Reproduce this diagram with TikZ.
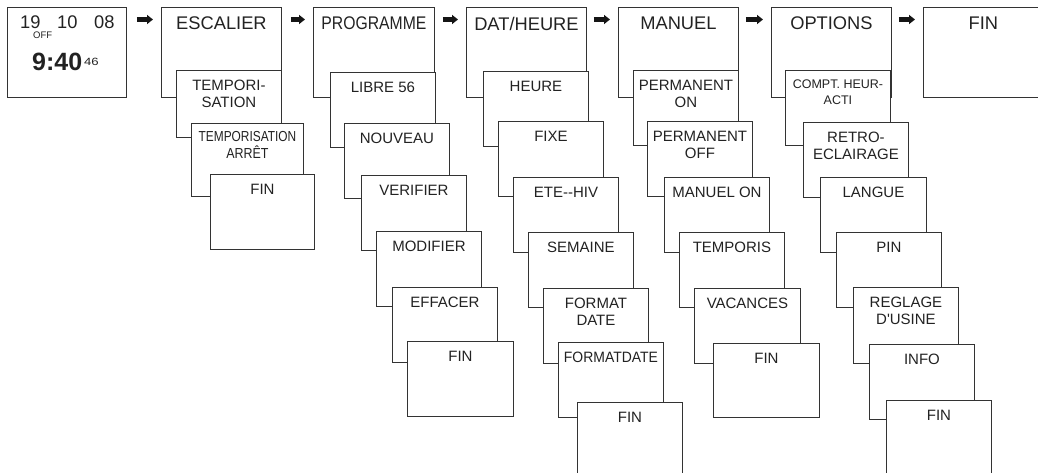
\documentclass[tikz,border=0pt]{standalone}
\usepackage{fontspec}
\setmainfont{Liberation Sans}
\usetikzlibrary{arrows.meta}

\definecolor{boxgray}{HTML}{333333}
\definecolor{textgray}{HTML}{222222}
\definecolor{arrowblack}{HTML}{151515}

\tikzset{
  mainbox/.style={draw=boxgray, fill=white, line width=0.9pt, anchor=north west,
    minimum width=120pt, minimum height=90pt, inner sep=0pt},
  subbox/.style={draw=boxgray, fill=white, line width=0.9pt, anchor=north west,
    minimum width=105pt, minimum height=75pt, inner sep=0pt},
  maintext/.style={anchor=north, inner sep=0pt, yshift=-10pt, text=textgray,
    font=\fontsize{18.3}{21}\selectfont},
  subtext/.style={anchor=north, inner sep=0pt, yshift=-9.5pt, align=center, text=textgray,
    font=\fontsize{15}{17}\selectfont},
  clocktext/.style={anchor=base west, inner sep=0pt, text=textgray},
  navarrow/.style={line width=5pt, arrowblack, -{Triangle[length=6pt,width=9pt]}}
}

\begin{document}
\begin{tikzpicture}[x=1pt,y=-1pt]
\useasboundingbox (0,0) rectangle (1038,473);
\clip (0,0) rectangle (1038,473);

% display
\node[mainbox, minimum width=119pt] (clock) at (7,7) {};
\node[clocktext, font=\fontsize{18.3}{21}\selectfont] (day) at (20,28.3) {19};
\node[clocktext, font=\fontsize{9.5}{11}\selectfont] (off) at (33,39) {OFF};
\node[clocktext, font=\fontsize{18.3}{21}\selectfont] (month) at (57,28.3) {10};
\node[clocktext, font=\fontsize{18.3}{21}\selectfont] (year) at (94,28.3) {08};
\node[clocktext, font=\bfseries\fontsize{25}{28}\selectfont] (time) at (32,71) {9:40};
\node[clocktext, font=\fontsize{10.5}{12}\selectfont] (sec) at (84,66) {\scalebox{1.25}[1]{46}};

% main menu
\node[mainbox] (esc) at (161,7) {};
\node[maintext] (esc-t) at (esc.north) {ESCALIER};
\node[mainbox, minimum width=121pt] (prog) at (313,7) {};
\node[maintext] (prog-t) at (prog.north) {\scalebox{0.86}[1]{PROGRAMME}};
\node[mainbox] (dat) at (466,7) {};
\node[maintext] (dat-t) at (dat.north) {DAT/HEURE};
\node[mainbox] (man) at (618,7) {};
\node[maintext] (man-t) at (man.north) {MANUEL};
\node[mainbox] (opt) at (771,7) {};
\node[maintext] (opt-t) at (opt.north) {OPTIONS};
\node[mainbox] (fin) at (923,7) {};
\node[maintext] (fin-t) at (fin.north) {FIN};

\draw[navarrow] ([shift={(10,12.5)}]clock.north east) -- ([shift={(-8,12.5)}]esc.north west);
\draw[navarrow] ([shift={(9,12.5)}]esc.north east) -- ([shift={(-8,12.5)}]prog.north west);
\draw[navarrow] ([shift={(8,12.5)}]prog.north east) -- ([shift={(-8,12.5)}]dat.north west);
\draw[navarrow] ([shift={(7,12.5)}]dat.north east) -- ([shift={(-8,12.5)}]man.north west);
\draw[navarrow] ([shift={(7,12.5)}]man.north east) -- ([shift={(-8,12.5)}]opt.north west);
\draw[navarrow] ([shift={(7,12.5)}]opt.north east) -- ([shift={(-8,12.5)}]fin.north west);

% ESCALIER
\node[subbox, minimum height=67pt] (esc1) at (176,70) {};
\node[subtext] (esc1-t) at (esc1.north) {TEMPORI-\\SATION};
\node[subbox, minimum width=112pt, minimum height=73pt] (esc2) at (191,123) {};
\node[subtext, yshift=1pt, font=\fontsize{14.5}{16.6}\selectfont] (esc2-t) at (esc2.north)
  {\scalebox{0.82}[1]{TEMPORISATION}\\\scalebox{0.86}[1]{ARRÊT}};
\node[subbox, minimum width=104pt] (esc3) at (210,174) {};
\node[subtext] (esc3-t) at (esc3.north) {FIN};

% PROGRAMME
\node[subbox] (prog1) at (330,72) {};
\node[subtext] (prog1-t) at (prog1.north) {LIBRE 56};
\node[subbox] (prog2) at (344,123) {};
\node[subtext] (prog2-t) at (prog2.north) {NOUVEAU};
\node[subbox] (prog3) at (361,175) {};
\node[subtext] (prog3-t) at (prog3.north) {VERIFIER};
\node[subbox] (prog4) at (376,231) {};
\node[subtext] (prog4-t) at (prog4.north) {MODIFIER};
\node[subbox] (prog5) at (392,287) {};
\node[subtext] (prog5-t) at (prog5.north) {EFFACER};
\node[subbox, minimum width=106pt] (prog6) at (407,341) {};
\node[subtext] (prog6-t) at (prog6.north) {FIN};

% DAT/HEURE
\node[subbox] (dat1) at (483,71) {};
\node[subtext] (dat1-t) at (dat1.north) {HEURE};
\node[subbox] (dat2) at (498,121) {};
\node[subtext] (dat2-t) at (dat2.north) {FIXE};
\node[subbox] (dat3) at (513,177) {};
\node[subtext] (dat3-t) at (dat3.north) {ETE-{}-HIV};
\node[subbox] (dat4) at (528,232) {};
\node[subtext] (dat4-t) at (dat4.north) {SEMAINE};
\node[subbox] (dat5) at (543,288) {};
\node[subtext] (dat5-t) at (dat5.north) {FORMAT\\DATE};
\node[subbox] (dat6) at (558,342) {};
\node[subtext] (dat6-t) at (dat6.north) {\scalebox{0.93}[1]{FORMATDATE}};
\node[subbox] (dat7) at (577,402) {};
\node[subtext] (dat7-t) at (dat7.north) {FIN};

% MANUEL
\node[subbox] (man1) at (633,70) {};
\node[subtext] (man1-t) at (man1.north) {PERMANENT\\ON};
\node[subbox] (man2) at (647,121) {};
\node[subtext] (man2-t) at (man2.north) {PERMANENT\\OFF};
\node[subbox] (man3) at (664,177) {};
\node[subtext] (man3-t) at (man3.north) {MANUEL ON};
\node[subbox] (man4) at (679,232) {};
\node[subtext] (man4-t) at (man4.north) {TEMPORIS};
\node[subbox, minimum width=106pt] (man5) at (694,288) {};
\node[subtext] (man5-t) at (man5.north) {VACANCES};
\node[subbox, minimum width=106pt, minimum height=74pt] (man6) at (713,343) {};
\node[subtext] (man6-t) at (man6.north) {FIN};

% OPTIONS
\node[subbox] (opt1) at (785,70) {};
\node[subtext, font=\fontsize{12.5}{15.7}\selectfont] (opt1-t) at (opt1.north) {COMPT. HEUR-\\ACTI};
\node[subbox] (opt2) at (803,122) {};
\node[subtext] (opt2-t) at (opt2.north) {RETRO-\\ECLAIRAGE};
\node[subbox, minimum width=106pt] (opt3) at (820,177) {};
\node[subtext] (opt3-t) at (opt3.north) {LANGUE};
\node[subbox] (opt4) at (836,232) {};
\node[subtext] (opt4-t) at (opt4.north) {PIN};
\node[subbox, minimum height=76pt] (opt5) at (853,287) {};
\node[subtext] (opt5-t) at (opt5.north) {REGLAGE\\D\textquotesingle USINE};
\node[subbox] (opt6) at (869,344) {};
\node[subtext] (opt6-t) at (opt6.north) {INFO};
\node[subbox] (opt7) at (886,400) {};
\node[subtext] (opt7-t) at (opt7.north) {FIN};
\end{tikzpicture}
\end{document}
